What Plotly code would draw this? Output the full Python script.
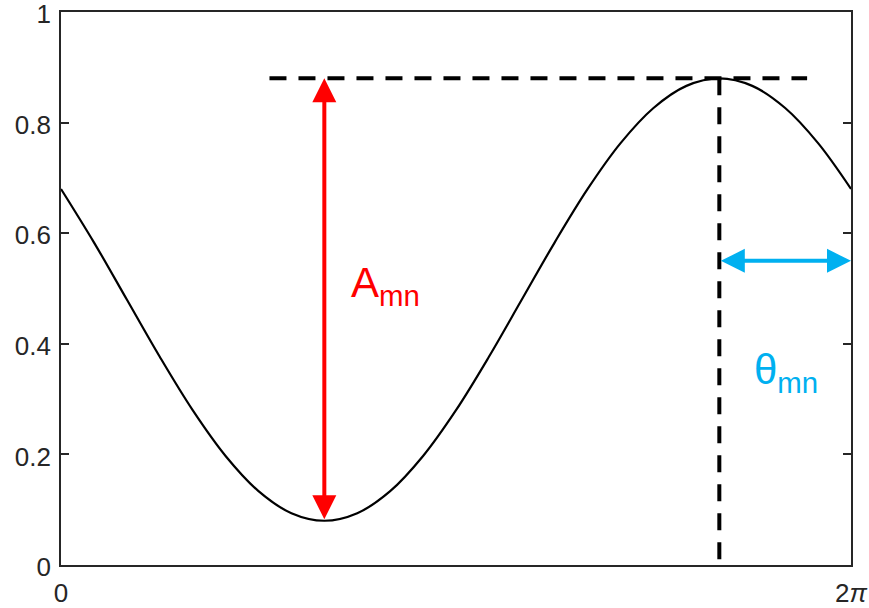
import plotly.graph_objects as go

# Phase angle samples (degrees, 0 .. 360 == 0 .. 2π) and the response curve
theta_deg = [0, 15, 30, 45, 60, 75, 90, 105, 120, 135, 150, 165, 180,
             195, 210, 225, 240, 255, 270, 285, 300, 315, 330, 345, 360]
response = [0.68, 0.5835, 0.48, 0.3765, 0.28, 0.1972, 0.1336, 0.0936, 0.08,
            0.0936, 0.1336, 0.1972, 0.28, 0.3765, 0.48, 0.5835, 0.68, 0.7628,
            0.8264, 0.8664, 0.88, 0.8664, 0.8264, 0.7628, 0.68]

# Annotated quantities
peak_value = 0.88
trough_value = 0.08
trough_pos = 120
peak_pos = 300
phase_arrow_level = 0.55
x_end = 360
ref_line_start = 95
ref_line_end = 340

x_tickvals = [0, 360]
x_ticktext = ["0", "2<i>π</i>"]
y_tickvals = [0, 0.2, 0.4, 0.6, 0.8, 1]
y_ticktext = ["0", "0.2", "0.4", "0.6", "0.8", "1"]

RED = "#FF0000"
CYAN = "#00B0F0"
AXIS = "#262626"

fig = go.Figure()
fig.add_trace(go.Scatter(
    x=theta_deg, y=response, mode="lines",
    line=dict(color="black", width=2.2, shape="spline", smoothing=1.0),
    hoverinfo="skip", showlegend=False,
))

# Dashed reference lines through the peak
fig.add_shape(type="line", xref="x", yref="y",
              x0=ref_line_start, x1=ref_line_end, y0=peak_value, y1=peak_value,
              line=dict(color="black", width=4, dash="17px,12px"))
fig.add_shape(type="line", xref="x", yref="y",
              x0=peak_pos, x1=peak_pos, y0=peak_value, y1=0,
              line=dict(color="black", width=4, dash="17px,12px"))

# Amplitude arrow (double headed)
fig.add_annotation(x=trough_pos, y=peak_value, ax=trough_pos, ay=trough_value,
                   xref="x", yref="y", axref="x", ayref="y",
                   showarrow=True, arrowhead=2, startarrowhead=2,
                   arrowside="end+start", arrowsize=1.2, startarrowsize=1.2,
                   arrowwidth=4, arrowcolor=RED, text="")
# Phase arrow (double headed)
fig.add_annotation(x=x_end, y=phase_arrow_level, ax=peak_pos, ay=phase_arrow_level,
                   xref="x", yref="y", axref="x", ayref="y",
                   showarrow=True, arrowhead=2, startarrowhead=2,
                   arrowside="end+start", arrowsize=1.2, startarrowsize=1.2,
                   arrowwidth=4, arrowcolor=CYAN, text="")

fig.add_annotation(x=131.2, y=0.505, xref="x", yref="y", showarrow=False,
                   xanchor="left", yanchor="middle",
                   text="A<sub>mn</sub>",
                   font=dict(family="Arial", size=42, color=RED))
fig.add_annotation(x=314.9, y=0.349, xref="x", yref="y", showarrow=False,
                   xanchor="left", yanchor="middle",
                   text="θ<sub>mn</sub>",
                   font=dict(family="Arial", size=42, color=CYAN))

axis_common = dict(showgrid=False, zeroline=False, showline=True, mirror="ticks",
                   linecolor=AXIS, linewidth=1.8, ticks="inside", ticklen=8,
                   tickcolor=AXIS, tickwidth=1.5, automargin=False,
                   ticklabeloverflow="allow",
                   tickfont=dict(family="Arial", size=26, color=AXIS))

fig.update_xaxes(range=[0, x_end], tickvals=x_tickvals, ticktext=x_ticktext,
                 ticklabelstandoff=4, **axis_common)
fig.update_yaxes(range=[0, 1], tickvals=y_tickvals, ticktext=y_ticktext,
                 ticklabelstandoff=3, ticklabelshift=2, **axis_common)

fig.update_layout(
    width=869, height=608,
    margin=dict(l=61, r=18, t=12, b=43),
    plot_bgcolor="white", paper_bgcolor="white",
    showlegend=False,
)

fig.write_html("out.html")
